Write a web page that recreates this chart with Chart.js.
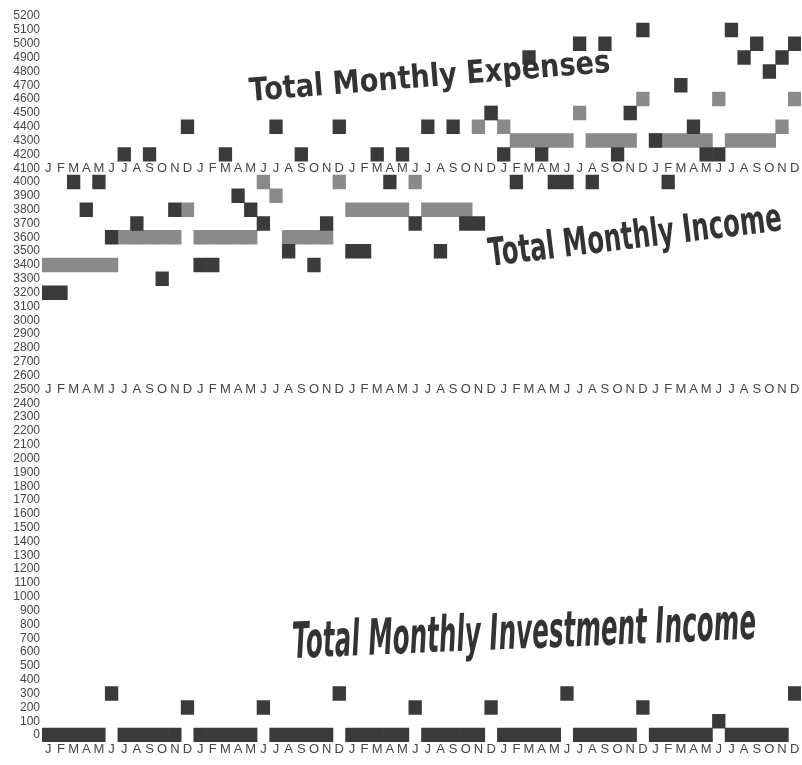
<!DOCTYPE html>
<html>
<head>
<meta charset="utf-8">
<script src="https://cdn.jsdelivr.net/npm/chart.js@4.4.1/dist/chart.umd.min.js"></script>
<style>
html, body { margin: 0; padding: 0; background: #fff; }
#wrap { width: 802px; height: 765px; position: relative; }
</style>
</head>
<body>
<div id="wrap"><canvas id="chart"></canvas></div>
<script>
const monthLetters = ['J', 'F', 'M', 'A', 'M', 'J', 'J', 'A', 'S', 'O', 'N', 'D'];
const yearCount = 5;

// one value per month, 5 years
const expenses = [
    3200, 3200, 4000, 3800, 4000, 3600, 4200, 3700, 4200, 3300, 3800, 4400,
    3400, 3400, 4200, 3900, 3800, 3700, 4400, 3500, 4200, 3400, 3700, 4400,
    3500, 3500, 4200, 4000, 4200, 3700, 4400, 3500, 4400, 3700, 3700, 4500,
    4200, 4000, 4900, 4200, 4000, 4000, 5000, 4000, 5000, 4200, 4500, 5100,
    4300, 4000, 4700, 4400, 4200, 4200, 5100, 4900, 5000, 4800, 4900, 5000
];

const income = [
    3400, 3400, 3400, 3400, 3400, 3400, 3600, 3600, 3600, 3600, 3600, 3800,
    3600, 3600, 3600, 3600, 3600, 4000, 3900, 3600, 3600, 3600, 3600, 4000,
    3800, 3800, 3800, 3800, 3800, 4000, 3800, 3800, 3800, 3800, 4400, 4500,
    4400, 4300, 4300, 4300, 4300, 4300, 4500, 4300, 4300, 4300, 4300, 4600,
    4300, 4300, 4300, 4300, 4300, 4600, 4300, 4300, 4300, 4300, 4400, 4600
];

const investmentIncome = [
    0, 0, 0, 0, 0, 300, 0, 0, 0, 0, 0, 200,
    0, 0, 0, 0, 0, 200, 0, 0, 0, 0, 0, 300,
    0, 0, 0, 0, 0, 200, 0, 0, 0, 0, 0, 200,
    0, 0, 0, 0, 0, 300, 0, 0, 0, 0, 0, 200,
    0, 0, 0, 0, 0, 100, 0, 0, 0, 0, 0, 300
];

const yTickValues = [];
for (let v = 0; v <= 5200; v += 100) yTickValues.push(v);

// rows where the month letters are repeated inside the plot
const monthRows = [4100, 2500];

const colors = {
    dark: '#3a3a3a',
    grey: '#8a8a8a',
    text: '#454545',
    title: '#333333'
};

const labels = [];
for (let y = 0; y < yearCount; y++) {
    monthLetters.forEach(m => labels.push(m));
}

// each value fills one cell, 100 units tall
const cells = values => values.map(v => [v - 50, v + 50]);

const titles = [
    { text: 'Total Monthly Expenses', x: 250, y: 101, angle: -4.6, width: 362, font: 'bold 32px "DejaVu Sans"' },
    { text: 'Total Monthly Income', x: 490, y: 266, angle: -7, width: 295, font: 'bold 39px "DejaVu Sans"' },
    { text: 'Total Monthly Investment Income', x: 293, y: 658, angle: -2.4, width: 464, font: 'italic bold 50px "DejaVu Sans"' }
];

const titlePlugin = {
    id: 'titles',
    afterDatasetsDraw(chart) {
        const ctx = chart.ctx;
        titles.forEach(t => {
            ctx.save();
            ctx.translate(t.x, t.y);
            ctx.rotate(t.angle * Math.PI / 180);
            ctx.font = t.font;
            const w = ctx.measureText(t.text).width;
            ctx.scale(t.width / w, 1);
            ctx.fillStyle = colors.title;
            ctx.textBaseline = 'alphabetic';
            ctx.fillText(t.text, 0, 0);
            ctx.restore();
        });
    }
};

const tickFont = { family: '"Liberation Sans", Arial, sans-serif', size: 12 };
const monthFont = { family: '"Liberation Sans", Arial, sans-serif', size: 13 };

function monthAxis(position, padding) {
    return {
        type: 'category',
        axis: 'x',
        position: position,
        offset: true,
        grid: { display: false, drawTicks: false },
        border: { display: false },
        ticks: {
            color: colors.text,
            font: monthFont,
            padding: padding,
            autoSkip: false,
            maxRotation: 0,
            minRotation: 0
        }
    };
}

const scales = {
    x: Object.assign(monthAxis('bottom', 0), {
        afterFit: scale => { scale.height = 23; }
    }),
    y: {
        type: 'linear',
        min: -50,
        max: 5250,
        grid: { display: false, drawTicks: false },
        border: { display: false },
        ticks: {
            color: colors.text,
            font: tickFont,
            padding: 2,
            autoSkip: false,
            callback: value => String(value)
        },
        afterBuildTicks: scale => {
            scale.ticks = yTickValues.map(v => ({ value: v }));
        },
        afterFit: scale => { scale.width = 42; }
    }
};
monthRows.forEach((row, i) => {
    scales['xRow' + i] = monthAxis({ y: row }, -monthFont.size * 0.6);
});

const dataset = (label, values, color) => ({
    label: label,
    data: cells(values),
    backgroundColor: color,
    borderWidth: 0,
    xAxisID: 'x',
    yAxisID: 'y',
    barPercentage: 1,
    categoryPercentage: 1,
    grouped: false
});

new Chart(document.getElementById('chart'), {
    type: 'bar',
    data: {
        labels: labels,
        datasets: [
            dataset('Total Monthly Expenses', expenses, colors.dark),
            dataset('Total Monthly Investment Income', investmentIncome, colors.dark),
            dataset('Total Monthly Income', income, colors.grey)
        ]
    },
    options: {
        responsive: true,
        maintainAspectRatio: false,
        animation: false,
        layout: { padding: { top: 6, right: 1, left: 0, bottom: 0 } },
        plugins: {
            legend: { display: false },
            tooltip: { enabled: false }
        },
        scales: scales
    },
    plugins: [titlePlugin]
});
</script>
</body>
</html>
